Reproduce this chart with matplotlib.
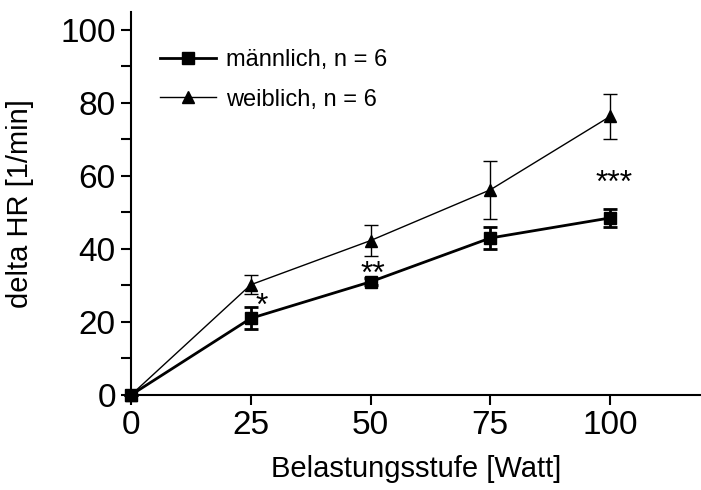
import matplotlib
matplotlib.use("Agg")
import matplotlib.pyplot as plt
from matplotlib.ticker import MultipleLocator
from matplotlib.lines import Line2D

plt.rcParams['font.family'] = ['Liberation Sans', 'DejaVu Sans']

watt = [0, 25, 50, 75, 100]
male = [0, 21, 31, 43, 48.5]
male_err = [0, 3, 1, 3, 2.5]
female = [0, 30.2, 42.3, 56.2, 76.3]
female_err = [0, 2.6, 4.3, 8, 6.2]
stars = ["*", "**", "***"]
star_x = [27.3, 50.4, 100.8]
star_y = [24, 33, 57.7]

fig = plt.figure(figsize=(7.01, 4.9), dpi=100)
ax = fig.add_axes([0.187, 0.194, 0.813, 0.782])

ax.errorbar(watt, female, yerr=female_err, color='black', lw=1, marker='^', ms=9,
            capsize=5, elinewidth=1, capthick=1, clip_on=False, zorder=3)
ax.errorbar(watt, male, yerr=male_err, color='black', lw=2, marker='s', ms=9,
            capsize=5, elinewidth=2, capthick=2, clip_on=False, zorder=4)

for s, x, y in zip(stars, star_x, star_y):
    ax.text(x, y, s, ha='center', va='center', fontsize=23)

ax.set_xlim(0, 119)
ax.set_ylim(0, 105)
ax.set_xticks(watt)
ax.set_yticks([0, 20, 40, 60, 80, 100])
ax.yaxis.set_minor_locator(MultipleLocator(10))
for sp in ['top', 'right']:
    ax.spines[sp].set_visible(False)
for sp in ['left', 'bottom']:
    ax.spines[sp].set_linewidth(1.5)
ax.tick_params(axis='both', which='major', labelsize=24, width=1.5, length=7, direction='out', pad=4)
ax.tick_params(axis='y', which='minor', width=1.5, length=7, direction='out')
ax.set_xlabel('Belastungsstufe [Watt]', fontsize=21, labelpad=10)
ax.set_ylabel('delta HR [1/min]', fontsize=21, labelpad=19)

handles = [Line2D([], [], color='black', lw=2, marker='s', ms=9),
           Line2D([], [], color='black', lw=1, marker='^', ms=9)]
labels = ['männlich, n = 6', 'weiblich, n = 6']
ax.legend(handles, labels, loc='upper left', bbox_to_anchor=(0.051, 0.903), frameon=False,
          fontsize=17, handlelength=2.35, handletextpad=0.42, labelspacing=0.75,
          borderpad=0, borderaxespad=0)

fig.savefig('out.png', dpi=100)
